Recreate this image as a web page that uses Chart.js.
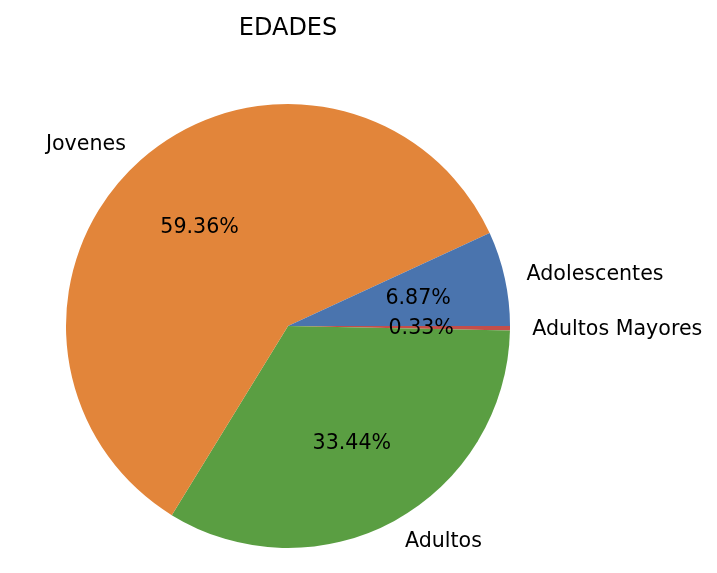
<!DOCTYPE html>
<html>
<head>
<meta charset="utf-8">
<script src="https://cdn.jsdelivr.net/npm/chart.js@4/dist/chart.umd.min.js"></script>
<style>
html,body{margin:0;padding:0;background:#fff;}
#wrap{width:717px;height:573px;}
</style>
</head>
<body>
<div id="wrap"><canvas id="c" width="717" height="573"></canvas></div>
<script>
// Data (drawn clockwise from 3 o'clock, i.e. reverse of matplotlib's counter-clockwise order)
const titleText = 'EDADES';
const categories = ['Adultos Mayores', 'Adultos', 'Jovenes', 'Adolescentes'];
const values = [0.33, 33.44, 59.36, 6.87];
const colors = ['#C44E4A', '#5A9E42', '#E2853A', '#4A74AE'];

const labelPlugin = {
  id: 'pieLabels',
  afterDraw(chart) {
    const ctx = chart.ctx;
    const meta = chart.getDatasetMeta(0);
    const total = values.reduce((a, b) => a + b, 0);
    ctx.save();
    ctx.fillStyle = '#000';
    ctx.font = '20.6px "DejaVu Sans"';
    meta.data.forEach((arc, i) => {
      const p = arc.getProps(['x', 'y', 'startAngle', 'endAngle', 'outerRadius'], true);
      const mid = (p.startAngle + p.endAngle) / 2;
      const c = Math.cos(mid), s = Math.sin(mid);
      // outer label
      const lx = p.x + p.outerRadius * 1.1 * c;
      const ly = p.y + p.outerRadius * 1.1 * s + 1;
      ctx.textAlign = c >= 0 ? 'left' : 'right';
      ctx.textBaseline = 'middle';
      ctx.fillText(categories[i], lx, ly);
      // percentage
      const px = p.x + p.outerRadius * 0.6 * c;
      const py = p.y + p.outerRadius * 0.6 * s + 1;
      ctx.textAlign = 'center';
      ctx.fillText((values[i] / total * 100).toFixed(2) + '%', px, py);
    });
    // title
    ctx.font = '24px "DejaVu Sans"';
    ctx.textAlign = 'center';
    ctx.textBaseline = 'middle';
    const ca = chart.chartArea;
    ctx.fillText(titleText, (ca.left + ca.right) / 2, 29);
    ctx.restore();
  }
};

new Chart(document.getElementById('c'), {
  type: 'pie',
  data: {
    labels: categories,
    datasets: [{
      data: values,
      backgroundColor: colors,
      borderWidth: 0
    }]
  },
  options: {
    responsive: false,
    animation: false,
    devicePixelRatio: 1,
    rotation: 90,
    layout: { padding: { left: 66, right: 207, top: 104, bottom: 25 } },
    plugins: { legend: { display: false }, tooltip: { enabled: false }, title: { display: false } }
  },
  plugins: [labelPlugin]
});
</script>
</body>
</html>
